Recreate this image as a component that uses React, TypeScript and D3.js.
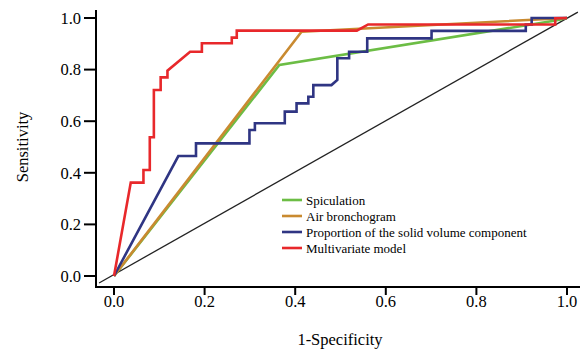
import React from "react";
import * as d3 from "d3";

// ROC points: [1-specificity, sensitivity]
const spiculation: [number, number][] = [
  [0, 0], [0.365, 0.818], [0.975, 0.99], [1, 1],
];

const airBronchogram: [number, number][] = [
  [0, 0], [0.414, 0.947], [1, 1],
];

const solidProportion: [number, number][] = [
  [0, 0], [0.142, 0.465], [0.181, 0.465], [0.181, 0.514], [0.299, 0.514],
  [0.299, 0.566], [0.311, 0.566], [0.311, 0.592], [0.377, 0.592], [0.377, 0.637],
  [0.403, 0.637], [0.403, 0.669], [0.429, 0.669], [0.429, 0.695], [0.44, 0.695],
  [0.44, 0.74], [0.48, 0.74], [0.493, 0.76], [0.493, 0.844], [0.519, 0.844],
  [0.519, 0.869], [0.559, 0.869], [0.559, 0.921], [0.701, 0.921], [0.701, 0.95],
  [0.909, 0.95], [0.909, 0.975], [0.922, 0.975], [0.922, 1.0], [0.97, 1.0], [1, 1],
];

const multivariate: [number, number][] = [
  [0, 0], [0.037, 0.362], [0.065, 0.362], [0.065, 0.411], [0.079, 0.411],
  [0.079, 0.538], [0.088, 0.538], [0.088, 0.721], [0.103, 0.721], [0.103, 0.77],
  [0.118, 0.77], [0.118, 0.796], [0.168, 0.869], [0.194, 0.869], [0.194, 0.902],
  [0.26, 0.902], [0.26, 0.924], [0.271, 0.924], [0.271, 0.951], [0.536, 0.951],
  [0.561, 0.975], [0.974, 0.975], [0.974, 0.999], [1, 1],
];

const reference: [number, number][] = [[-0.033, -0.027], [1.024, 1.023]];

const seriesNames = [
  "Spiculation",
  "Air bronchogram",
  "Proportion of the solid volume component",
  "Multivariate model",
];
const seriesColors = ["#6cbd45", "#c98a30", "#2f3583", "#e8282b"];
const seriesData = [spiculation, airBronchogram, solidProportion, multivariate];

const xTicks = [0, 0.2, 0.4, 0.6, 0.8, 1.0];
const yTicks = [0, 0.2, 0.4, 0.6, 0.8, 1.0];

const serif = { fontFamily: "Liberation Serif" };

export default function App() {
  const width = 586,
    height = 350;

  const x = d3.scaleLinear().domain([0, 1]).range([114, 567]);
  const y = d3.scaleLinear().domain([0, 1]).range([276, 18]);

  const line = d3
    .line<[number, number]>()
    .x((d) => x(d[0]))
    .y((d) => y(d[1]));

  const axisY = 287,
    axisX = 96;

  return (
    <svg
      width={width}
      height={height}
      style={{ position: "absolute", left: 0, top: 0, background: "#fff" }}
    >
      {/* diagonal reference */}
      <path d={line(reference) || ""} fill="none" stroke="#222" strokeWidth={1.3} />

      {/* ROC curves, drawn bottom to top */}
      {[0, 1, 2, 3].map((i) => (
        <path
          key={i}
          d={line(seriesData[i]) || ""}
          fill="none"
          stroke={seriesColors[i]}
          strokeWidth={2.6}
        />
      ))}

      {/* axes */}
      <line x1={axisX} x2={axisX} y1={10} y2={axisY + 1} stroke="#000" strokeWidth={2} />
      <line x1={axisX - 1} x2={580} y1={axisY} y2={axisY} stroke="#000" strokeWidth={2} />

      {yTicks.map((t) => (
        <g key={"y" + t} transform={`translate(0,${y(t)})`}>
          <line x1={84} x2={axisX} stroke="#000" strokeWidth={2} />
          <text x={81} dy="0.35em" textAnchor="end" fontSize={16.5} style={serif}>
            {d3.format(".1f")(t)}
          </text>
        </g>
      ))}

      {xTicks.map((t) => (
        <g key={"x" + t} transform={`translate(${x(t)},0)`}>
          <line y1={axisY} y2={axisY + 8} stroke="#000" strokeWidth={2} />
          <text y={307} textAnchor="middle" fontSize={16.5} style={serif}>
            {d3.format(".1f")(t)}
          </text>
        </g>
      ))}

      <text x={340} y={345} textAnchor="middle" fontSize={16.5} style={serif}>
        1-Specificity
      </text>
      <text
        transform={`translate(28,147) rotate(-90)`}
        textAnchor="middle"
        fontSize={16.5}
        style={serif}
      >
        Sensitivity
      </text>

      {/* legend */}
      {seriesNames.map((name, i) => (
        <g key={name} transform={`translate(0,${200 + i * 16})`}>
          <line x1={282} x2={302} stroke={seriesColors[i]} strokeWidth={2.6} />
          <text x={306} dy="0.35em" fontSize={13} style={serif}>
            {name}
          </text>
        </g>
      ))}
    </svg>
  );
}
